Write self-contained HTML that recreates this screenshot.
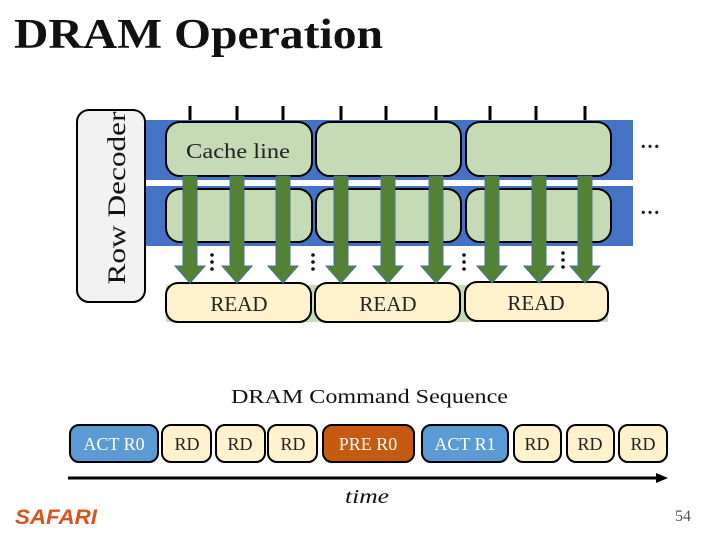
<!DOCTYPE html>
<html><head><meta charset="utf-8"><style>
html,body{margin:0;padding:0;background:#fff;}
svg{display:block;}
text{font-family:"Liberation Serif","DejaVu Serif",serif;}
</style></head><body>
<svg width="720" height="540" viewBox="0 0 720 540" xmlns="http://www.w3.org/2000/svg">
<defs>
<g id="arr"><path d="M-7,176 H7 V266 H15 L0,283 L-15,266 H-7 Z" fill="#548235" stroke="#41719c" stroke-width="1"/></g>
</defs>
<text x="14" y="48" font-size="42" font-weight="bold" fill="#111" textLength="369" lengthAdjust="spacingAndGlyphs">DRAM Operation</text>
<!-- row decoder -->
<rect x="77" y="110" width="68" height="192" rx="12" fill="#f2f2f2" stroke="#000" stroke-width="2"/>
<text transform="translate(125,198) rotate(-90)" text-anchor="middle" font-size="25" fill="#111" textLength="173" lengthAdjust="spacingAndGlyphs">Row Decoder</text>
<!-- ticks -->
<g stroke="#000" stroke-width="3">
<line x1="190" y1="106" x2="190" y2="120"/><line x1="237" y1="106" x2="237" y2="120"/><line x1="283" y1="106" x2="283" y2="120"/>
<line x1="341" y1="106" x2="341" y2="120"/><line x1="386" y1="106" x2="386" y2="120"/><line x1="436" y1="106" x2="436" y2="120"/>
<line x1="490" y1="106" x2="490" y2="120"/><line x1="536" y1="106" x2="536" y2="120"/><line x1="585" y1="106" x2="585" y2="120"/>
</g>
<!-- bands -->
<rect x="146" y="120" width="487" height="60" fill="#4472c4"/>
<rect x="146" y="186" width="487" height="60" fill="#4472c4"/>
<g fill="#c5dbb5" stroke="#000" stroke-width="2">
<rect x="166" y="122" width="146" height="54" rx="14"/><rect x="316" y="122" width="145" height="54" rx="14"/><rect x="466" y="122" width="145" height="54" rx="14"/>
<rect x="166" y="189" width="146" height="53" rx="14"/><rect x="316" y="189" width="145" height="53" rx="14"/><rect x="466" y="189" width="145" height="53" rx="14"/>
</g>
<text x="186" y="158" font-size="21" fill="#222" textLength="104" lengthAdjust="spacingAndGlyphs">Cache line</text>
<text x="640" y="148" font-size="20" font-weight="bold" fill="#111">…</text>
<text x="640" y="214" font-size="20" font-weight="bold" fill="#111">…</text>
<!-- read boxes -->
<rect x="166" y="285" width="442" height="37" fill="#c5dbb5"/>
<g fill="#fff2cc" stroke="#000" stroke-width="2">
<rect x="166" y="283" width="145" height="39" rx="12"/><rect x="315" y="283" width="145" height="39" rx="12"/><rect x="465" y="282" width="143" height="39" rx="12"/>
</g>
<text x="239" y="311" text-anchor="middle" font-size="21" fill="#222">READ</text>
<text x="388" y="311" text-anchor="middle" font-size="21" fill="#222">READ</text>
<text x="536" y="310" text-anchor="middle" font-size="21" fill="#222">READ</text>
<!-- arrows -->
<use href="#arr" x="190"/><use href="#arr" x="237"/><use href="#arr" x="283"/>
<use href="#arr" x="341"/><use href="#arr" x="388"/><use href="#arr" x="436"/>
<use href="#arr" x="492"/><use href="#arr" x="539"/><use href="#arr" x="585"/>
<g fill="#111">
<circle cx="212" cy="255" r="1.8"/><circle cx="212" cy="262" r="1.8"/><circle cx="212" cy="269" r="1.8"/>
<circle cx="313" cy="255" r="1.8"/><circle cx="313" cy="262" r="1.8"/><circle cx="313" cy="269" r="1.8"/>
<circle cx="464" cy="255" r="1.8"/><circle cx="464" cy="262" r="1.8"/><circle cx="464" cy="269" r="1.8"/>
<circle cx="563" cy="253" r="1.8"/><circle cx="563" cy="260" r="1.8"/><circle cx="563" cy="267" r="1.8"/>
</g>
<!-- command sequence -->
<text x="231" y="403" font-size="20" fill="#111" textLength="277" lengthAdjust="spacingAndGlyphs">DRAM Command Sequence</text>
<g stroke="#000" stroke-width="2" font-size="18">
<rect x="70" y="425" width="88" height="37" rx="9" fill="#5b9bd5"/>
<rect x="162" y="425" width="49" height="37" rx="9" fill="#fff2cc"/>
<rect x="216" y="425" width="49" height="37" rx="9" fill="#fff2cc"/>
<rect x="268" y="425" width="49" height="37" rx="9" fill="#fff2cc"/>
<rect x="323" y="425" width="91" height="37" rx="9" fill="#c55a11"/>
<rect x="422" y="425" width="86" height="37" rx="9" fill="#5b9bd5"/>
<rect x="514" y="425" width="47" height="37" rx="9" fill="#fff2cc"/>
<rect x="567" y="425" width="47" height="37" rx="9" fill="#fff2cc"/>
<rect x="619" y="425" width="48" height="37" rx="9" fill="#fff2cc"/>
</g>
<g font-size="18" text-anchor="middle">
<text x="114" y="450" fill="#fff">ACT R0</text>
<text x="187" y="450" fill="#222">RD</text><text x="240" y="450" fill="#222">RD</text><text x="293" y="450" fill="#222">RD</text>
<text x="368" y="450" fill="#fff">PRE R0</text>
<text x="465" y="450" fill="#fff">ACT R1</text>
<text x="537" y="450" fill="#222">RD</text><text x="590" y="450" fill="#222">RD</text><text x="643" y="450" fill="#222">RD</text>
</g>
<line x1="68" y1="478" x2="660" y2="478" stroke="#000" stroke-width="3"/>
<path d="M668,478 L656,473 L656,483 Z" fill="#000"/>
<text x="345" y="503" font-size="20" font-style="italic" fill="#111" textLength="44" lengthAdjust="spacingAndGlyphs">time</text>
<text x="15" y="524" font-size="21" font-weight="bold" font-style="italic" fill="#d9531e" style="font-family:'Liberation Sans',sans-serif" textLength="82" lengthAdjust="spacingAndGlyphs">SAFARI</text>
<text x="683" y="521" text-anchor="middle" font-size="16" fill="#555">54</text>
</svg>
</body></html>
